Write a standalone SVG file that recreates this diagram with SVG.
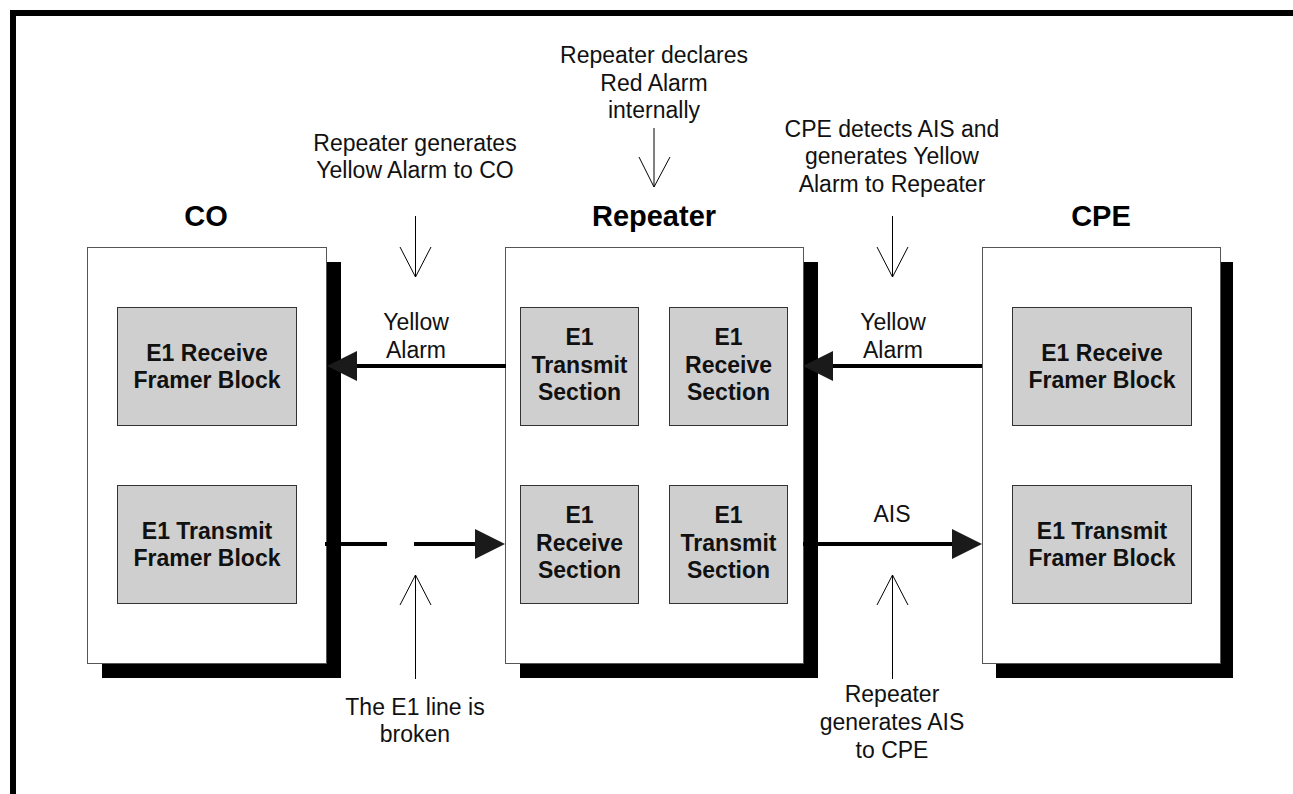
<svg xmlns="http://www.w3.org/2000/svg" width="1293" height="794" viewBox="0 0 1293 794">
<style>
.box{fill:#ffffff;stroke:#555555;stroke-width:1}
.shadow{fill:#000000}
.blk{fill:#cfcfcf;stroke:#333333;stroke-width:1}
.bt{font-family:"Liberation Sans",Arial,sans-serif;font-weight:bold;font-size:23px;fill:#111111;text-anchor:middle}
.title{font-family:"Liberation Sans",Arial,sans-serif;font-weight:bold;font-size:29px;fill:#000000;text-anchor:middle}
.t{font-family:"Liberation Sans",Arial,sans-serif;font-size:23px;fill:#111111;text-anchor:middle}
.ln{stroke:#000000;stroke-width:4;fill:none}
.head{fill:#1a1a1a}
.thin{stroke:#000000;stroke-width:1;fill:none}
</style>
<rect x="0" y="0" width="1293" height="794" fill="#ffffff"/>
<rect x="13" y="13" width="1300" height="800" fill="none" stroke="#000000" stroke-width="6"/>

<g id="co">
<rect class="shadow" x="102" y="262" width="239" height="416"/>
<rect class="box" x="87.5" y="247.5" width="239" height="416"/>
<text class="title" x="206" y="226">CO</text>
</g>
<g id="co-rx">
<rect class="blk" x="117.5" y="307.5" width="179" height="118"/>
<text class="bt" x="207" y="361">E1 Receive</text>
<text class="bt" x="207" y="388">Framer Block</text>
</g>
<g id="co-tx">
<rect class="blk" x="117.5" y="485.5" width="179" height="118"/>
<text class="bt" x="207" y="539">E1 Transmit</text>
<text class="bt" x="207" y="566">Framer Block</text>
</g>

<g id="repeater">
<rect class="shadow" x="520" y="262" width="298" height="416"/>
<rect class="box" x="505.5" y="247.5" width="298" height="416"/>
<text class="title" x="654" y="226">Repeater</text>
</g>
<g id="rep-tx-top">
<rect class="blk" x="520.5" y="307.5" width="118" height="118"/>
<text class="bt" x="579.5" y="345">E1</text>
<text class="bt" x="579.5" y="373">Transmit</text>
<text class="bt" x="579.5" y="400">Section</text>
</g>
<g id="rep-rx-top">
<rect class="blk" x="669.5" y="307.5" width="118" height="118"/>
<text class="bt" x="728.5" y="345">E1</text>
<text class="bt" x="728.5" y="373">Receive</text>
<text class="bt" x="728.5" y="400">Section</text>
</g>
<g id="rep-rx-bot">
<rect class="blk" x="520.5" y="485.5" width="118" height="118"/>
<text class="bt" x="579.5" y="523">E1</text>
<text class="bt" x="579.5" y="551">Receive</text>
<text class="bt" x="579.5" y="578">Section</text>
</g>
<g id="rep-tx-bot">
<rect class="blk" x="669.5" y="485.5" width="118" height="118"/>
<text class="bt" x="728.5" y="523">E1</text>
<text class="bt" x="728.5" y="551">Transmit</text>
<text class="bt" x="728.5" y="578">Section</text>
</g>

<g id="cpe">
<rect class="shadow" x="996" y="262" width="237" height="416"/>
<rect class="box" x="982.5" y="247.5" width="238" height="416"/>
<text class="title" x="1101" y="226">CPE</text>
</g>
<g id="cpe-rx">
<rect class="blk" x="1012.5" y="307.5" width="179" height="118"/>
<text class="bt" x="1102" y="361">E1 Receive</text>
<text class="bt" x="1102" y="388">Framer Block</text>
</g>
<g id="cpe-tx">
<rect class="blk" x="1012.5" y="485.5" width="179" height="118"/>
<text class="bt" x="1102" y="539">E1 Transmit</text>
<text class="bt" x="1102" y="566">Framer Block</text>
</g>

<g id="connectors">
<line class="ln" x1="506" y1="366" x2="355" y2="366"/>
<polygon class="head" points="327,366 357,351 357,381"/>
<line class="ln" x1="982" y1="366" x2="831" y2="366"/>
<polygon class="head" points="803,366 833,351 833,381"/>
<line class="ln" x1="325" y1="544" x2="387" y2="544"/>
<line class="ln" x1="414" y1="544" x2="477" y2="544"/>
<polygon class="head" points="505,544 475,529 475,559"/>
<line class="ln" x1="803" y1="544" x2="954" y2="544"/>
<polygon class="head" points="982,544 952,529 952,559"/>

<line class="thin" x1="654" y1="128" x2="654" y2="187"/>
<polyline class="thin" points="639,157 654,187 670,157"/>
<line class="thin" x1="415.5" y1="216" x2="415.5" y2="277"/>
<polyline class="thin" points="400,247 415.5,277 431,247"/>
<line class="thin" x1="892.5" y1="216" x2="892.5" y2="277"/>
<polyline class="thin" points="877,247 892.5,277 908,247"/>
<line class="thin" x1="415.5" y1="575" x2="415.5" y2="679"/>
<polyline class="thin" points="400,605 415.5,575 431,605"/>
<line class="thin" x1="892.5" y1="575" x2="892.5" y2="679"/>
<polyline class="thin" points="877,605 892.5,575 908,605"/>
</g>

<g id="labels">
<text class="t" x="654" y="63">Repeater declares</text>
<text class="t" x="654" y="91">Red Alarm</text>
<text class="t" x="654" y="118">internally</text>
<text class="t" x="415" y="151">Repeater generates</text>
<text class="t" x="415" y="178">Yellow Alarm to CO</text>
<text class="t" x="892" y="137">CPE detects AIS and</text>
<text class="t" x="892" y="164">generates Yellow</text>
<text class="t" x="892" y="192">Alarm to Repeater</text>
<text class="t" x="416" y="330">Yellow</text>
<text class="t" x="416" y="358">Alarm</text>
<text class="t" x="893" y="330">Yellow</text>
<text class="t" x="893" y="358">Alarm</text>
<text class="t" x="892" y="522">AIS</text>
<text class="t" x="415" y="715">The E1 line is</text>
<text class="t" x="415" y="742">broken</text>
<text class="t" x="892" y="702">Repeater</text>
<text class="t" x="892" y="730">generates AIS</text>
<text class="t" x="892" y="758">to CPE</text>
</g>
</svg>
